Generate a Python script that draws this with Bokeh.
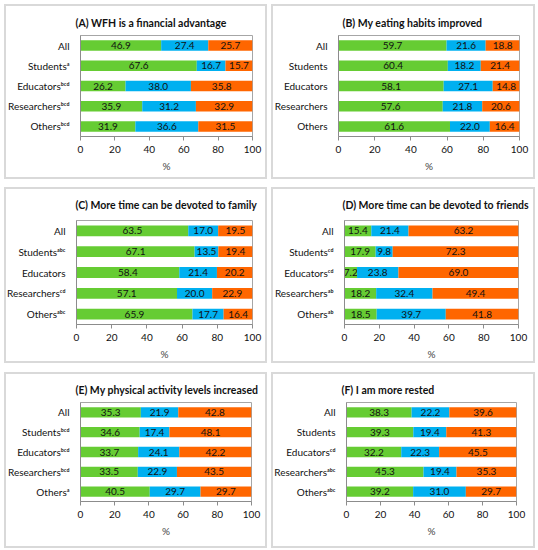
import numpy as np
from bokeh.plotting import figure
from bokeh.layouts import column, row
from bokeh.models import ColumnDataSource, FactorRange, Range1d
from bokeh.core.properties import value
from bokeh.embed import file_html
from bokeh.resources import INLINE

# Данні
groups = ["All", "Students", "Educators", "Researchers", "Others"]

titles = [
    "(A) WFH is a financial advantage",
    "(B) My eating habits improved",
    "(C) More time can be devoted to family",
    "(D) More time can be devoted to friends",
    "(E) My physical activity levels increased",
    "(F) I am more rested",
]

agree_a = [46.9, 67.6, 26.2, 35.9, 31.9]
neutral_a = [27.4, 16.7, 38.0, 31.2, 36.6]
disagree_a = [25.7, 15.7, 35.8, 32.9, 31.5]
sup_a = ["", "a", "bcd", "bcd", "bcd"]

agree_b = [59.7, 60.4, 58.1, 57.6, 61.6]
neutral_b = [21.6, 18.2, 27.1, 21.8, 22.0]
disagree_b = [18.8, 21.4, 14.8, 20.6, 16.4]
sup_b = ["", "", "", "", ""]

agree_c = [63.5, 67.1, 58.4, 57.1, 65.9]
neutral_c = [17.0, 13.5, 21.4, 20.0, 17.7]
disagree_c = [19.5, 19.4, 20.2, 22.9, 16.4]
sup_c = ["", "abc", "", "cd", "abc"]

agree_d = [15.4, 17.9, 7.2, 18.2, 18.5]
neutral_d = [21.4, 9.8, 23.8, 32.4, 39.7]
disagree_d = [63.2, 72.3, 69.0, 49.4, 41.8]
sup_d = ["", "cd", "cd", "ab", "ab"]

agree_e = [35.3, 34.6, 33.7, 33.5, 40.5]
neutral_e = [21.9, 17.4, 24.1, 22.9, 29.7]
disagree_e = [42.8, 48.1, 42.2, 43.5, 29.7]
sup_e = ["", "bcd", "bcd", "bcd", "a"]

agree_f = [38.3, 39.3, 32.2, 45.3, 39.2]
neutral_f = [22.2, 19.4, 22.3, 19.4, 31.0]
disagree_f = [39.6, 41.3, 45.5, 35.3, 29.7]
sup_f = ["", "", "cd", "abc", "abc"]

x_ticks = [0, 20, 40, 60, 80, 100]

COLORS = ["#66CC33", "#00B0F0", "#FF6600"]
FONT = "Lato"
SUP = str.maketrans("abcd", "\u1d43\u1d47\u1d9c\u1d48")


def make_panel(title, series, sups, size, borders, title_shift, margin):
    width, height = size
    left, right, top, bottom = borders
    labels = [g + s.translate(SUP) for g, s in zip(groups, sups)]

    p = figure(width=width, height=height, y_range=FactorRange(*labels[::-1]),
               x_range=Range1d(0, 100), toolbar_location=None, tools="",
               output_backend="svg", margin=margin,
               min_border_left=left, min_border_right=right,
               min_border_top=top, min_border_bottom=bottom)

    start = np.zeros(len(groups))
    for vals, color in zip(series, COLORS):
        vals = np.array(vals)
        src = ColumnDataSource(dict(
            y=labels, left=start, right=start + vals,
            mid=start + vals / 2, label=["%.1f" % v for v in vals]))
        p.hbar(y="y", left="left", right="right", height=0.52, source=src,
               fill_color=color, line_color=None)
        p.text(x="mid", y="y", text="label", source=src, text_align="center",
               text_baseline="middle", text_font=value(FONT),
               text_font_size="10px", text_color="#111111")
        start = start + vals

    p.title.text = title
    p.title.align = "left"
    p.title.vertical_align = "top"
    p.title.offset = title_shift[0]
    p.title.standoff = title_shift[1]
    p.title.text_font = FONT
    p.title.text_font_size = "10.5px"
    p.title.text_font_style = "bold"
    p.title.text_color = "#111111"

    p.xaxis.ticker = x_ticks
    p.xaxis.axis_label = "%"
    p.xaxis.axis_label_text_font = FONT
    p.xaxis.axis_label_text_font_size = "10px"
    p.xaxis.axis_label_text_font_style = "normal"
    p.xaxis.axis_label_standoff = 4
    p.xaxis.major_tick_in = 0
    p.xaxis.major_tick_out = 4

    for ax in (p.xaxis, p.yaxis):
        ax.axis_line_color = "#8c8c8c"
        ax.minor_tick_line_color = None
        ax.major_label_text_font = FONT
        ax.major_label_text_font_size = "10px"
        ax.major_label_text_color = "#111111"
        ax.major_label_standoff = 5
    p.xaxis.major_tick_line_color = "#8c8c8c"
    p.yaxis.major_tick_line_color = None

    p.xgrid.grid_line_color = None
    p.ygrid.grid_line_color = None
    p.outline_line_color = "#a6a6a6"

    # рамка панелі (CSS), фон полотна прозорий, щоб рамку було видно
    p.border_fill_color = None
    p.styles = {"outline": "2px solid #d9d9d9", "outline-offset": "-2px"}
    return p


pa = make_panel(titles[0], [agree_a, neutral_a, disagree_a], sup_a, (263, 175),
                (71, 15, 31, 43), (-5, 10), (4, 2, 4, 4))
pb = make_panel(titles[1], [agree_b, neutral_b, disagree_b], sup_b, (264, 175),
                (61, 16, 31, 43), (4, 10), (4, 3, 4, 2))
pc = make_panel(titles[2], [agree_c, neutral_c, disagree_c], sup_c, (263, 176),
                (67, 15, 33, 39), (-1, 15), (4, 2, 4, 4))
pd_ = make_panel(titles[3], [agree_d, neutral_d, disagree_d], sup_d, (264, 176),
                 (67, 17, 33, 39), (-2, 15), (4, 3, 4, 2))
pe = make_panel(titles[4], [agree_e, neutral_e, disagree_e], sup_e, (263, 176),
                (71, 16, 30, 47), (-5, 9), (5, 2, 2, 4))
pf = make_panel(titles[5], [agree_f, neutral_f, disagree_f], sup_f, (264, 176),
                (69, 19, 30, 47), (-5, 9), (5, 3, 2, 2))

layout = column(row(pa, pb, spacing=0), row(pc, pd_, spacing=0),
                row(pe, pf, spacing=0), spacing=0)

open("out.html", "w").write(file_html(layout, INLINE))
